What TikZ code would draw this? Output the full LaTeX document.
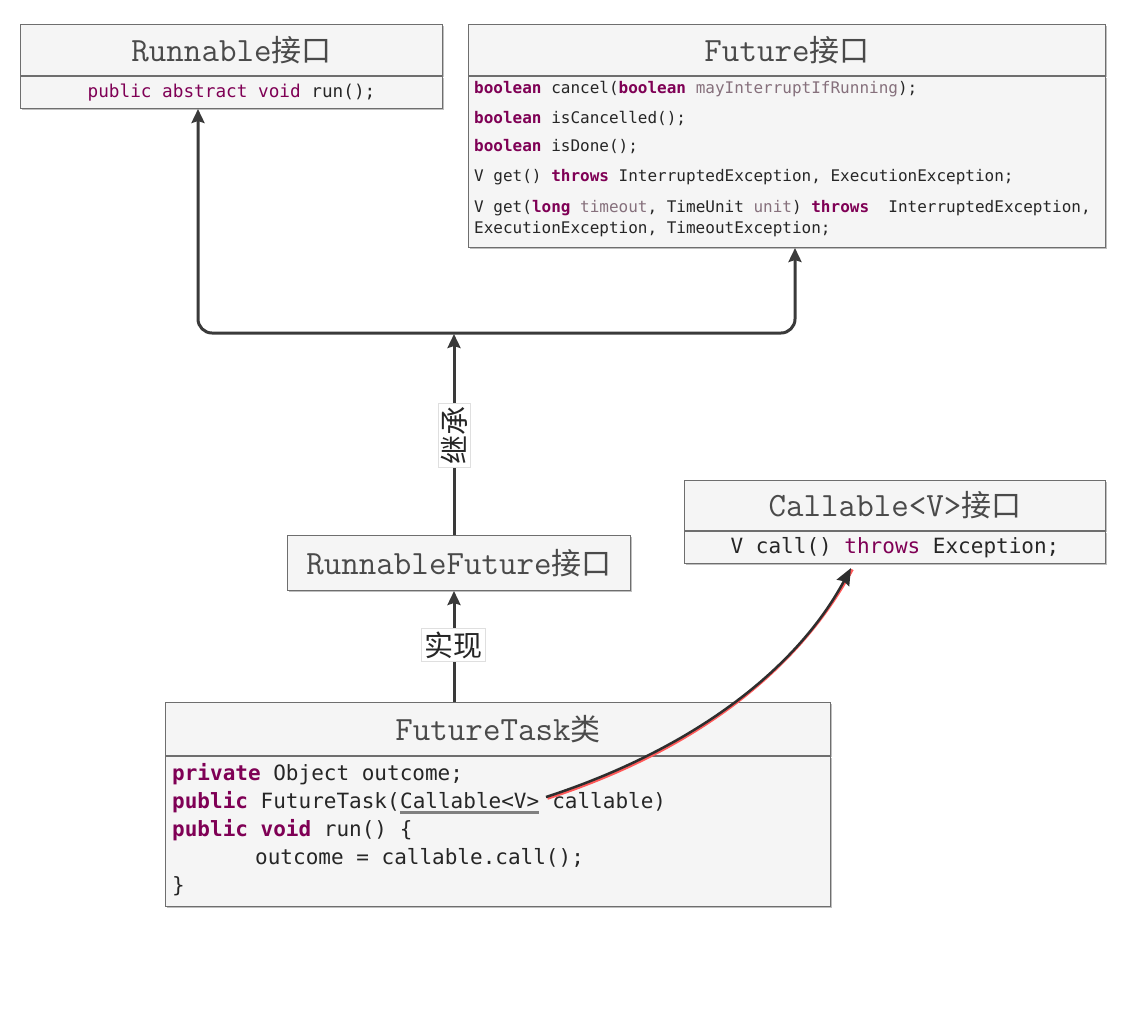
\documentclass[tikz,border=0pt]{standalone}
\usepackage{fontspec}
\usetikzlibrary{arrows.meta,shadows}
\newfontfamily\codefont{DejaVu Sans Mono}
\newfontfamily\cjkfont{Noto Sans CJK SC}
\definecolor{kwcol}{HTML}{7F0055}
\definecolor{prmcol}{HTML}{86707C}
\definecolor{hdrgray}{HTML}{4A4A4A}
\definecolor{edgecol}{HTML}{3A3A3A}
\definecolor{boxline}{HTML}{6E6E6E}
\newcommand{\kwd}[1]{{\bfseries\color{kwcol}#1}}
\newcommand{\kwl}[1]{{\color{kwcol}#1}}
\newcommand{\prmt}[1]{{\color{prmcol}#1}}
\tikzset{
  boxpart/.style={draw=boxline, line width=1pt, fill=gray!8, inner sep=0pt,
    drop shadow={shadow xshift=1.5pt, shadow yshift=-1.5pt, fill=black, opacity=0.25}},
  hdrtext/.style={font=\ttfamily\fontsize{34}{38}\selectfont, text=hdrgray, inner sep=0pt},
  codeA/.style={font=\codefont\fontsize{16}{19}\selectfont, text=black!85, inner sep=0pt},
  codeB/.style={font=\codefont\fontsize{21}{25}\selectfont, text=black!85, inner sep=0pt},
  codeR/.style={font=\codefont\fontsize{17.7}{21}\selectfont, text=black!85, inner sep=0pt},
  conn/.style={draw=edgecol, line width=3pt},
  tip/.style={-{Stealth[length=14pt,width=13pt,inset=2pt]}},
  lbl/.style={fill=white, draw=gray!25, line width=0.5pt, inner sep=3pt,
    font=\cjkfont\fontsize{29}{32}\selectfont, text=black!85}
}
\begin{document}
\begin{tikzpicture}[x=1pt,y=-1pt]
\useasboundingbox (0,0) rectangle (1129,1021);

% Runnable
\node[boxpart, minimum width=422pt, minimum height=51pt, anchor=north west] (rh) at (20,24) {};
\node[boxpart, minimum width=422pt, minimum height=32pt, anchor=north west] (rb) at (rh.south west) {};
\node[hdrtext] (rht) at (rh.center) {Runnable{\cjkfont\fontsize{30}{34}\selectfont 接口}};
\node[codeR] (rbt) at (rb.center) {\kwl{public abstract void} run();};

% Future
\node[boxpart, minimum width=637pt, minimum height=51pt, anchor=north west] (fh) at (468,24) {};
\node[boxpart, minimum width=637pt, minimum height=171pt, anchor=north west] (fb) at (fh.south west) {};
\node[hdrtext] (fht) at (fh.center) {Future{\cjkfont\fontsize{30}{34}\selectfont 接口}};
\node[codeA, anchor=west] (f1) at (474,89) {\kwd{boolean} cancel(\kwd{boolean} \prmt{mayInterruptIfRunning});};
\node[codeA, anchor=west] (f2) at (474,118) {\kwd{boolean} isCancelled();};
\node[codeA, anchor=west] (f3) at (474,147) {\kwd{boolean} isDone();};
\node[codeA, anchor=west] (f4) at (474,177) {V get() \kwd{throws} InterruptedException, ExecutionException;};
\node[codeA, anchor=west] (f5) at (474,208) {V get(\kwd{long} \prmt{timeout}, TimeUnit \prmt{unit}) \kwd{throws}\ \ InterruptedException,};
\node[codeA, anchor=west] (f6) at (474,229) {ExecutionException, TimeoutException;};

% RunnableFuture
\node[boxpart, minimum width=343pt, minimum height=55pt, anchor=north west] (rf) at (287,535) {};
\node[hdrtext] (rft) at (rf.center) {RunnableFuture{\cjkfont\fontsize{30}{34}\selectfont 接口}};

% Callable
\node[boxpart, minimum width=421pt, minimum height=50pt, anchor=north west] (ch) at (684,480) {};
\node[boxpart, minimum width=421pt, minimum height=32pt, anchor=north west] (cb) at (ch.south west) {};
\node[hdrtext] (cht) at (ch.center) {Callable<V>{\cjkfont\fontsize{30}{34}\selectfont 接口}};
\node[codeB] (cbt) at (cb.center) {V call() \kwl{throws} Exception;};

% FutureTask
\node[boxpart, minimum width=665pt, minimum height=53pt, anchor=north west] (th) at (165,702) {};
\node[boxpart, minimum width=665pt, minimum height=150pt, anchor=north west] (tb) at (th.south west) {};
\node[hdrtext] (tht) at (th.center) {FutureTask{\cjkfont\fontsize{30}{34}\selectfont 类}};
\node[codeB, anchor=west] (t1) at (172,774) {\kwd{private} Object outcome;};
\node[codeB, anchor=west] (t2a) at (172,802) {\kwd{public} FutureTask(};
\node[codeB, anchor=base west] (cv) at (t2a.base east) {Callable<V>};
\node[codeB, anchor=base west] (t2c) at (cv.base east) {\ callable)};
\node[codeB, anchor=west] (t3) at (172,830) {\kwd{public} \kwd{void} run() \{};
\node[codeB, anchor=west] (t4) at (255,858) {outcome = callable.call();};
\node[codeB, anchor=west] (t5) at (172,886) {\}};
\draw[gray, line width=2.5pt] ([yshift=-4pt]cv.base west) -- ([yshift=-4pt]cv.base east);

% connectors
\coordinate (jl) at (198,333);
\coordinate (jr) at (795,333);
\coordinate (jc) at (454,333);
\draw[conn, {Stealth[length=14pt,width=13pt,inset=2pt]}-{Stealth[length=14pt,width=13pt,inset=2pt]}, rounded corners=14pt]
  (rb.south -| jl) -- (jl) -- (jr) -- (fb.south -| jr);
\draw[conn, tip] (rf.north -| jc) -- ([yshift=-1pt]jc);
\draw[conn, tip] (th.north -| jc) -- (rf.south -| jc);
\node[lbl, rotate=90] (inh) at (454,435) {继承};
\node[lbl] (impl) at (453,645) {实现};

% curved arrow
\coordinate (cst) at (546,797);
\coordinate (ctip) at (851,568);
\draw[red!65, line width=2.5pt, transform canvas={xshift=1.5pt,yshift=-1.5pt}]
  (cst) .. controls (690,750) and (795,672) .. (ctip);
\draw[edgecol!80!black, line width=2.5pt, -{Stealth[length=17pt,width=14pt,inset=2pt]}]
  (cst) .. controls (690,750) and (795,672) .. (ctip);
\end{tikzpicture}
\end{document}
